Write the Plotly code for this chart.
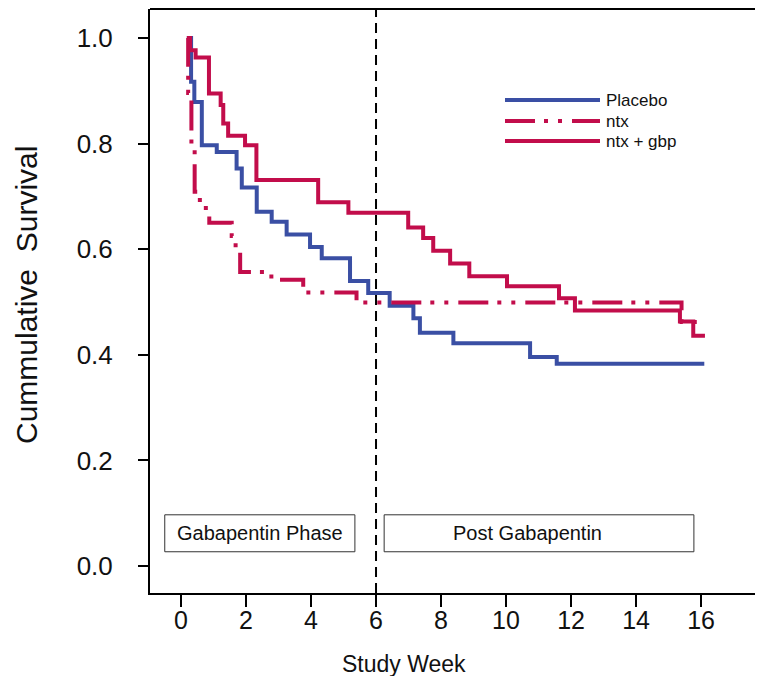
import plotly.graph_objects as go

# ---- data ----
placebo_week = [0.18, 0.31, 0.41, 0.64, 1.10, 1.71, 1.87, 2.33, 2.79, 3.25, 3.97, 4.33, 5.20, 5.76,
                6.42, 7.15, 7.35, 8.38, 10.74, 11.56, 16.10]
placebo_surv = [1.000, 0.917, 0.879, 0.797, 0.784, 0.753, 0.717, 0.671, 0.652, 0.628, 0.604, 0.583,
                0.540, 0.517, 0.493, 0.469, 0.442, 0.422, 0.396, 0.383, 0.383]

ntx_week = [0.18, 0.22, 0.32, 0.42, 0.58, 0.87, 1.56, 1.68, 1.82, 2.78, 3.76, 5.40, 15.40, 16.10]
ntx_surv = [1.000, 0.896, 0.800, 0.709, 0.678, 0.650, 0.625, 0.600, 0.557, 0.542, 0.518, 0.499,
            0.462, 0.462]

gbp_week = [0.20, 0.28, 0.45, 0.86, 1.22, 1.30, 1.45, 1.97, 2.32, 4.22, 5.15, 6.99, 7.45, 7.76,
            8.28, 8.87, 10.03, 11.63, 12.12, 15.35, 15.76, 16.12]
gbp_surv = [1.000, 0.977, 0.963, 0.895, 0.873, 0.838, 0.815, 0.797, 0.731, 0.689, 0.669, 0.641,
            0.621, 0.597, 0.573, 0.549, 0.530, 0.507, 0.484, 0.463, 0.436, 0.436]

series_names = ["Placebo", "ntx", "ntx + gbp"]
x_ticks = [0, 2, 4, 6, 8, 10, 12, 14, 16]
y_ticks = [0.0, 0.2, 0.4, 0.6, 0.8, 1.0]
phase_labels = ["Gabapentin Phase", "Post Gabapentin"]
phase_split_week = 6

BLUE = "#3a4fa4"
RED = "#c20d4b"
DASHDOT = "30px,9px,4px,10px,4px,10px"
FONT = "Liberation Sans, Arial, sans-serif"

fig = go.Figure()
fig.add_trace(go.Scatter(x=placebo_week, y=placebo_surv, mode="lines", name=series_names[0],
                         line=dict(color=BLUE, width=4, shape="hv"), showlegend=False))
fig.add_trace(go.Scatter(x=ntx_week, y=ntx_surv, mode="lines", name=series_names[1],
                         line=dict(color=RED, width=4, shape="hv", dash=DASHDOT), showlegend=False))
fig.add_trace(go.Scatter(x=gbp_week, y=gbp_surv, mode="lines", name=series_names[2],
                         line=dict(color=RED, width=4, shape="hv"), showlegend=False))

# top frame line (open on the right, like the reference)
fig.add_shape(type="line", xref="paper", yref="paper", x0=0, x1=1, y0=1, y1=1,
              line=dict(color="black", width=2))

# phase divider
fig.add_shape(type="line", xref="x", yref="paper", x0=phase_split_week, x1=phase_split_week,
              y0=0, y1=1, line=dict(color="black", width=2, dash="10px,6px"))

# phase boxes
boxes = [(-0.50, 5.35), (6.25, 15.78)]
label_x = [2.43, 10.65]
for (bx0, bx1), lx, lab in zip(boxes, label_x, phase_labels):
    fig.add_shape(type="rect", xref="x", yref="y", x0=bx0, x1=bx1, y0=0.027, y1=0.097,
                  line=dict(color="#333333", width=1), fillcolor="white", layer="above")
    fig.add_annotation(xref="x", yref="y", x=lx, y=0.062, text=lab, showarrow=False,
                       font=dict(family=FONT, size=20, color="#111111"))

# manual legend (positions in screen pixels of the 763x684 view)
def px_x(p):
    return (p - 150) / 605

def px_y(p):
    return (593 - p) / 584

leg_rows = [(100, BLUE, "solid"), (121, RED, DASHDOT), (141, RED, "solid")]
for (ly, col, dsh), nm in zip(leg_rows, series_names):
    fig.add_shape(type="line", xref="paper", yref="paper", x0=px_x(505), x1=px_x(600),
                  y0=px_y(ly), y1=px_y(ly), line=dict(color=col, width=4, dash=dsh))
    fig.add_annotation(xref="paper", yref="paper", x=px_x(604), y=px_y(ly), text=nm,
                       showarrow=False, xanchor="left", yanchor="middle",
                       font=dict(family=FONT, size=17, color="#111111"))

# axis titles
fig.add_annotation(xref="paper", yref="paper", x=px_x(404), y=px_y(664), text="Study Week",
                   showarrow=False, xanchor="center", yanchor="middle",
                   font=dict(family=FONT, size=23, color="#111111"))
fig.add_annotation(xref="paper", yref="paper", x=px_x(26), y=px_y(295),
                   text="Cummulative  Survival", textangle=-90, showarrow=False,
                   xanchor="center", yanchor="middle",
                   font=dict(family=FONT, size=30, color="#111111"))

# page body has an 8px margin: figure sized so the page does not overflow the window
fig.update_layout(
    width=747, height=668,
    margin=dict(l=142, r=0, t=1, b=83),
    plot_bgcolor="white", paper_bgcolor="white",
    showlegend=False,
)
fig.update_xaxes(range=[-0.954, 17.66], tickvals=x_ticks, ticktext=[str(v) for v in x_ticks],
                 showgrid=False, zeroline=False, showline=True, linecolor="black", linewidth=2,
                 mirror=False, ticks="outside", ticklen=12, tickwidth=2, tickcolor="black",
                 ticklabelstandoff=-8,
                 tickfont=dict(family=FONT, size=25, color="#111111"))
fig.update_yaxes(range=[-0.0511, 1.0549], tickvals=y_ticks, ticktext=[f"{v:.1f}" for v in y_ticks],
                 showgrid=False, zeroline=False, showline=True, linecolor="black", linewidth=2,
                 mirror=False, ticks="outside", ticklen=10, tickwidth=2, tickcolor="black",
                 ticklabelstandoff=20,
                 tickfont=dict(family=FONT, size=26, color="#111111"))

fig.write_html("out.html")
